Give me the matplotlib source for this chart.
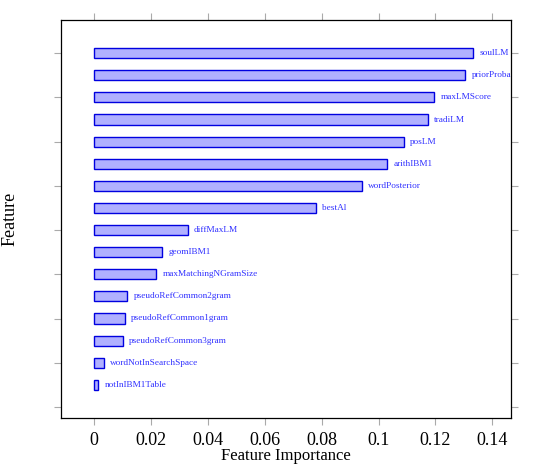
import matplotlib
matplotlib.use('Agg')
import matplotlib.pyplot as plt

features = ['notInIBM1Table', 'wordNotInSearchSpace', 'pseudoRefCommon3gram',
            'pseudoRefCommon1gram', 'pseudoRefCommon2gram', 'maxMatchingNGramSize',
            'geomIBM1', 'diffMaxLM', 'bestAl', 'wordPosterior', 'arithIBM1',
            'posLM', 'tradiLM', 'maxLMScore', 'priorProba', 'soulLM']
importance = [0.0014, 0.0035, 0.0100, 0.0108, 0.0116, 0.0218,
              0.0239, 0.0329, 0.0780, 0.0942, 0.1031,
              0.1090, 0.1174, 0.1196, 0.1305, 0.1334]
xticks = [0, 0.02, 0.04, 0.06, 0.08, 0.1, 0.12, 0.14]
xticklabels = ['0', '0.02', '0.04', '0.06', '0.08', '0.1', '0.12', '0.14']

plt.rcParams['font.family'] = ['Liberation Serif', 'DejaVu Serif']

fig = plt.figure(figsize=(5.47, 4.68), dpi=100)
ax = fig.add_axes([61 / 547, 50 / 468, 450 / 547, 398 / 468])

pos = list(range(1, len(features) + 1))
ax.barh(pos, importance, height=0.46, color='#b0b0ff', edgecolor='#0000e0', linewidth=1.0)

for p, v, name in zip(pos, importance, features):
    ax.annotate(name, (v, p), xytext=(4.5, 0), textcoords='offset points',
                va='center', ha='left', fontsize=6.7, color='#3030ff', clip_on=True,
                annotation_clip=True)

ax.set_xlim(-0.0117, 0.1466)
ax.set_ylim(-0.5, 17.5)
ax.set_xticks(xticks)
ax.set_xticklabels(xticklabels, fontsize=13)
ax.set_yticks(range(0, 17, 2))
ax.set_yticklabels([])
ax.tick_params(axis='both', direction='out', color='#aaaaaa', length=5, width=0.8,
               top=True, right=True)
ax.tick_params(axis='x', pad=5)

for s in ax.spines.values():
    s.set_linewidth(0.9)

ax.set_xlabel('Feature Importance', fontsize=12, labelpad=-1)
ax.set_ylabel('Feature', fontsize=13, va='center')
ax.yaxis.set_label_coords(-0.113, 0.5)

plt.savefig('out.png', dpi=100)
